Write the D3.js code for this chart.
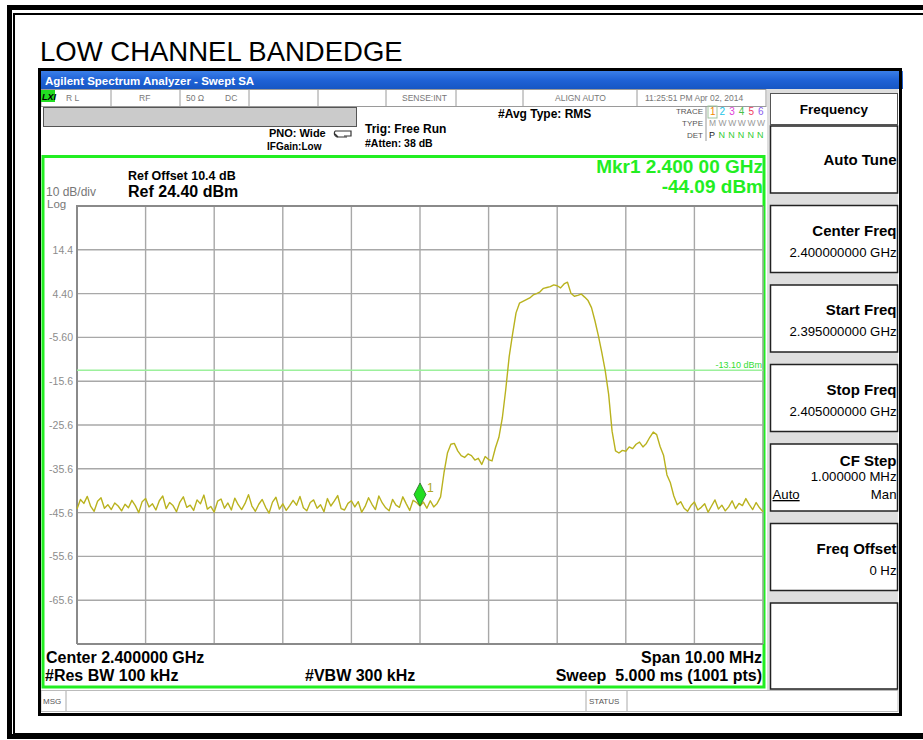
<!DOCTYPE html>
<html>
<head>
<meta charset="utf-8">
<script src="https://cdn.jsdelivr.net/npm/d3@7"></script>
<style>
  body { margin: 0; background: #fff; }
  svg { display: block; }
  text { font-family: "Liberation Sans", Arial, sans-serif; white-space: pre; }
</style>
</head>
<body>
<svg id="chart" width="923" height="740"></svg>
<script>
// ---- sweep settings ----
const startFreqGHz = 2.395;
const stopFreqGHz = 2.405;
const refLevelDbm = 24.4;
const dbPerDiv = 10;
const divisions = 10;
const yTickLabels = ["14.4", "4.40", "-5.60", "-15.6", "-25.6", "-35.6", "-45.6", "-55.6", "-65.6"];

// ---- trace 1 (dBm), 201 points evenly spaced from start to stop ----
const traceDbm = [
  -44.8, -42.6, -43.5, -41.9, -44.2, -45.3, -43.0, -42.2, -44.6, -43.8,
  -44.9, -43.4, -44.1, -45.2, -43.7, -44.5, -42.8, -44.0, -45.6, -43.1,
  -42.4, -44.3, -43.6, -45.0, -42.9, -41.8, -44.7, -43.3, -44.0, -45.4,
  -43.2, -42.0, -44.4, -43.9, -45.1, -42.7, -43.6, -41.6, -44.8, -44.2,
  -45.5, -43.0, -42.5, -44.6, -43.4, -45.0, -42.3, -43.8, -44.9, -43.5,
  -41.5, -44.1, -45.3, -43.7, -42.6, -44.4, -45.7, -43.2, -42.1, -44.8,
  -43.6, -45.1, -44.0, -42.8, -43.9, -41.9, -44.5, -45.2, -43.3, -42.7,
  -44.6, -43.8, -45.4, -42.4, -44.1, -43.0, -41.7, -44.7, -45.0, -43.5,
  -42.9, -44.3, -43.1, -45.5, -44.2, -42.2, -43.7, -44.9, -41.8, -43.4,
  -44.5, -45.2, -42.6, -43.9, -44.4, -42.0, -43.6, -45.1, -42.8, -43.3,
  -44.09, -43.2, -44.6, -42.9, -44.3, -43.5, -42.0, -36.5, -32.0, -30.0,
  -29.8, -31.5, -32.6, -33.0, -32.2, -32.6, -33.6, -33.2, -34.6, -32.8,
  -33.5, -33.8, -30.8, -28.4, -24.0, -17.5, -10.0, -4.8, 0.0, 2.2,
  2.6, 3.0, 3.4, 4.1, 4.4, 4.8, 5.6, 5.8, 6.0, 6.4,
  6.2, 5.7, 6.6, 7.0, 4.5, 3.8, 4.0, 4.3, 3.6, 2.8,
  1.2, -1.8, -5.2, -9.0, -13.2, -18.6, -27.0, -31.5, -32.0, -31.4,
  -31.6, -30.6, -31.0, -30.0, -29.5, -30.6, -29.8, -28.4, -27.2, -27.8,
  -30.5, -32.5, -37.0, -38.8, -41.8, -43.8, -43.1, -44.6, -45.3, -44.0,
  -43.2, -45.0, -44.4, -43.6, -45.5, -44.1, -42.7, -44.8, -43.9, -45.2,
  -44.3, -42.9, -44.7, -43.5, -44.0, -42.4, -43.8, -44.9, -43.3, -44.5,
  -45.4
];

// ---- marker & display line ----
const markerFreqGHz = 2.400;
const markerDbm = -44.09;
const displayLineDbm = -13.10;

// ---- annotation text ----
const pageTitle = "LOW CHANNEL BANDEDGE";
const windowTitle = "Agilent Spectrum Analyzer - Swept SA";
const statusCells = ["R L", "RF", "50 \u03A9", "DC", "SENSE:INT", "ALIGN AUTO", "11:25:51 PM Apr 02, 2014"];
const traceNumbers = ["1", "2", "3", "4", "5", "6"];
const traceTypes = ["M", "W", "W", "W", "W", "W"];
const traceDets = ["P", "N", "N", "N", "N", "N"];
const softkeys = [
  { title: "Auto Tune" },
  { title: "Center Freq", value: "2.400000000 GHz" },
  { title: "Start Freq", value: "2.395000000 GHz" },
  { title: "Stop Freq", value: "2.405000000 GHz" },
  { title: "CF Step", value: "1.000000 MHz", left: "Auto", right: "Man" },
  { title: "Freq Offset", value: "0 Hz" },
  { title: "" }
];

const svg = d3.select("#chart");

// ---- page frame (right side runs past the edge) ----
svg.append("rect").attr("x", 9.5).attr("y", 7.5).attr("width", 940).attr("height", 729)
  .attr("fill", "none").attr("stroke", "#000").attr("stroke-width", 5);
svg.append("rect").attr("x", 14).attr("y", 14).attr("width", 920).attr("height", 720)
  .attr("fill", "none").attr("stroke", "#000").attr("stroke-width", 2);

svg.append("text").attr("x", 40).attr("y", 61).attr("font-size", 27.5).attr("fill", "#000")
  .text(pageTitle);

// ---- analyzer window ----
const win = { x0: 38, y0: 68, x1: 903, y1: 717 };
svg.append("rect").attr("x", win.x0).attr("y", win.y0).attr("width", win.x1 - win.x0).attr("height", win.y1 - win.y0)
  .attr("fill", "#fff");

// title bar
const grad = svg.append("defs").append("linearGradient").attr("id", "bar").attr("x1", 0).attr("y1", 0).attr("x2", 0).attr("y2", 1);
grad.append("stop").attr("offset", "0").attr("stop-color", "#3a7ee8");
grad.append("stop").attr("offset", "0.5").attr("stop-color", "#1f62d6");
grad.append("stop").attr("offset", "1").attr("stop-color", "#1656c4");
svg.append("rect").attr("x", win.x0).attr("y", 71).attr("width", win.x1 - win.x0).attr("height", 18).attr("fill", "url(#bar)");
svg.append("text").attr("x", 45).attr("y", 85).attr("font-size", 11.5).attr("font-weight", "bold")
  .attr("fill", "#fff").text(windowTitle);

// status row
svg.append("rect").attr("x", 41).attr("y", 89.5).attr("width", 725).attr("height", 17)
  .attr("fill", "#fff").attr("stroke", "#9a9a9a").attr("stroke-width", 1);
svg.append("rect").attr("x", 41).attr("y", 90).attr("width", 14).attr("height", 12).attr("fill", "#22dd22");
svg.append("text").attr("x", 42).attr("y", 100).attr("font-size", 9).attr("font-weight", "bold")
  .attr("font-style", "italic").attr("fill", "#000").text("LXI");
const dividerX = [111, 180, 249, 318, 386, 456, 523, 637];
svg.selectAll("line.div").data(dividerX).join("line").attr("class", "div")
  .attr("x1", d => d).attr("x2", d => d).attr("y1", 90).attr("y2", 106)
  .attr("stroke", "#9a9a9a").attr("stroke-width", 1);
const statusX = [66, 139, 186, 225, 402, 555, 645];
svg.selectAll("text.status").data(statusCells).join("text").attr("class", "status")
  .attr("x", (d, i) => statusX[i]).attr("y", 101).attr("font-size", 8.5).attr("fill", "#777")
  .text(d => d);

// setup bar
svg.append("rect").attr("x", 43.5).attr("y", 107.5).attr("width", 313).attr("height", 19)
  .attr("fill", "#cbcbcb").attr("stroke", "#555").attr("stroke-width", 1);
svg.append("text").attr("x", 269).attr("y", 137).attr("font-size", 11).attr("font-weight", "bold").text("PNO: Wide");
svg.append("text").attr("x", 267).attr("y", 150).attr("font-size", 10).attr("font-weight", "bold").text("IFGain:Low");
svg.append("path").attr("d", "M335,131 h16 v5 h-7 M338,137 l-3,-3")
  .attr("fill", "none").attr("stroke", "#333").attr("stroke-width", 1.2);
svg.append("path").attr("d", "M335,131 q-2,4 2,6 h10").attr("fill", "none").attr("stroke", "#333").attr("stroke-width", 1.2);
svg.append("text").attr("x", 365).attr("y", 133).attr("font-size", 12).attr("font-weight", "bold").text("Trig: Free Run");
svg.append("text").attr("x", 365).attr("y", 147).attr("font-size", 10.5).attr("font-weight", "bold").text("#Atten: 38 dB");
svg.append("text").attr("x", 498).attr("y", 118).attr("font-size", 12).attr("font-weight", "bold").text("#Avg Type: RMS");

// trace table
const traceColors = ["#f08a00", "#19c3e8", "#e040d8", "#48c048", "#f04060", "#8a5cf0"];
[["TRACE", 114], ["TYPE", 126], ["DET", 138]].forEach(([t, yy]) => {
  svg.append("text").attr("x", 703).attr("y", yy).attr("font-size", 8).attr("text-anchor", "end")
    .attr("fill", "#555").text(t);
});
svg.append("line").attr("x1", 706).attr("x2", 706).attr("y1", 106).attr("y2", 141).attr("stroke", "#999");
svg.append("rect").attr("x", 708).attr("y", 106).attr("width", 9).attr("height", 12).attr("fill", "none").attr("stroke", "#9fc59f");
svg.selectAll("text.tn").data(traceNumbers).join("text").attr("class", "tn")
  .attr("x", (d, i) => 710 + i * 9.6).attr("y", 115).attr("font-size", 10).attr("fill", (d, i) => traceColors[i]).text(d => d);
svg.selectAll("text.tt").data(traceTypes).join("text").attr("class", "tt")
  .attr("x", (d, i) => 709 + i * 9.6).attr("y", 126).attr("font-size", 8.5).attr("fill", "#999").text(d => d);
svg.selectAll("text.td").data(traceDets).join("text").attr("class", "td")
  .attr("x", (d, i) => 709 + i * 9.6).attr("y", 138).attr("font-size", 9)
  .attr("fill", (d, i) => i === 0 ? "#222" : "#33cc33").text(d => d);

// ---- softkey panel ----
svg.append("rect").attr("x", 767).attr("y", 89).attr("width", 131).attr("height", 601).attr("fill", "#dedede");
svg.append("rect").attr("x", 770.5).attr("y", 93.5).attr("width", 127).attr("height", 31)
  .attr("fill", "#fff").attr("stroke", "#555").attr("stroke-width", 1);
svg.append("text").attr("x", 834).attr("y", 114).attr("font-size", 13.5).attr("font-weight", "bold")
  .attr("text-anchor", "middle").text("Frequency");
const keyTop = i => 126 + i * 79.5;
const keys = svg.selectAll("g.key").data(softkeys).join("g").attr("class", "key")
  .attr("transform", (d, i) => `translate(770.5,${keyTop(i)})`);
keys.append("rect").attr("width", 127).attr("height", (d, i) => i === softkeys.length - 1 ? 86 : 67).attr("fill", "#fff")
  .attr("stroke", "#222").attr("stroke-width", 1.5);
keys.append("text").attr("x", 126).attr("y", d => d.left ? 22 : (d.value ? 30 : 39)).attr("font-size", 15).attr("font-weight", "bold")
  .attr("text-anchor", "end").text(d => d.title);
keys.filter(d => d.value).append("text").attr("x", 126).attr("y", d => d.left ? 37 : 51)
  .attr("font-size", 13.2).attr("text-anchor", "end").text(d => d.value);
keys.filter(d => d.left).append("text").attr("x", 2).attr("y", 55).attr("font-size", 13.2)
  .attr("text-decoration", "underline").text(d => d.left);
keys.filter(d => d.right).append("text").attr("x", 126).attr("y", 55).attr("font-size", 13.2)
  .attr("text-anchor", "end").text(d => d.right);

// ---- graticule ----
const plot = { left: 77, right: 763, top: 206, bottom: 644 };
const x = d3.scaleLinear().domain([startFreqGHz, stopFreqGHz]).range([plot.left, plot.right]);
const y = d3.scaleLinear().domain([refLevelDbm - dbPerDiv * divisions, refLevelDbm]).range([plot.bottom, plot.top]);

// green display frame
svg.append("rect").attr("x", 43).attr("y", 156.5).attr("width", 721).attr("height", 530.5)
  .attr("fill", "#fff").attr("stroke", "#22ee22").attr("stroke-width", 3);

const xGrid = d3.range(divisions + 1).map(i => startFreqGHz + i * (stopFreqGHz - startFreqGHz) / divisions);
const yGrid = d3.range(divisions + 1).map(i => refLevelDbm - i * dbPerDiv);
svg.append("g").selectAll("line").data(xGrid).join("line")
  .attr("x1", d => x(d)).attr("x2", d => x(d)).attr("y1", plot.top).attr("y2", plot.bottom)
  .attr("stroke", "#a8a8a8").attr("stroke-width", 1.4);
svg.append("g").selectAll("line").data(yGrid).join("line")
  .attr("x1", plot.left).attr("x2", plot.right).attr("y1", d => y(d)).attr("y2", d => y(d))
  .attr("stroke", "#a8a8a8").attr("stroke-width", 1.4);
svg.append("path")
  .attr("d", `M${plot.left},${plot.bottom} V${plot.top} H${plot.right}`)
  .attr("fill", "none").attr("stroke", "#8a8a8a").attr("stroke-width", 2);
svg.append("line").attr("x1", plot.left).attr("x2", plot.right).attr("y1", plot.bottom).attr("y2", plot.bottom)
  .attr("stroke", "#8a8a8a").attr("stroke-width", 2);

// y tick labels
svg.selectAll("text.ytick").data(yTickLabels).join("text").attr("class", "ytick")
  .attr("x", 73).attr("y", (d, i) => y(yGrid[i + 1]) + 4).attr("text-anchor", "end")
  .attr("font-size", 10.5).attr("fill", "#8c8c8c").text(d => d);

// display line
svg.append("line").attr("x1", plot.left).attr("x2", plot.right)
  .attr("y1", y(displayLineDbm)).attr("y2", y(displayLineDbm))
  .attr("stroke", "#9cf09c").attr("stroke-width", 1.3);
svg.append("text").attr("x", 762).attr("y", y(displayLineDbm) - 2).attr("text-anchor", "end")
  .attr("font-size", 9).attr("fill", "#33dd33").text(displayLineDbm.toFixed(2) + " dBm");

// trace
const step = (stopFreqGHz - startFreqGHz) / (traceDbm.length - 1);
const line = d3.line().x((d, i) => x(startFreqGHz + i * step)).y(d => y(d));
svg.append("path").datum(traceDbm).attr("d", line)
  .attr("fill", "none").attr("stroke", "#b9b21e").attr("stroke-width", 1.4).attr("stroke-linejoin", "round");

// marker 1
const mx = x(markerFreqGHz), my = y(markerDbm);
svg.append("path").attr("d", `M${mx},${my} l-6,-11.5 l6,-11.5 l6,11.5 z`)
  .attr("fill", "#22dd22").attr("stroke", "#2a6a2a").attr("stroke-width", 0.8);
svg.append("text").attr("x", mx + 7).attr("y", my - 14).attr("font-size", 12).attr("fill", "#b0a820").text("1");

// ---- readouts ----
svg.append("text").attr("x", 763).attr("y", 173).attr("text-anchor", "end").attr("font-size", 19)
  .attr("font-weight", "bold").attr("fill", "#22ee22").text(`Mkr1 ${markerFreqGHz.toFixed(3)} 00 GHz`);
svg.append("text").attr("x", 763).attr("y", 192.5).attr("text-anchor", "end").attr("font-size", 19)
  .attr("font-weight", "bold").attr("fill", "#22ee22").text(`${markerDbm.toFixed(2)} dBm`);
svg.append("text").attr("x", 128).attr("y", 180).attr("font-size", 12.5).attr("font-weight", "bold").text("Ref Offset 10.4 dB");
svg.append("text").attr("x", 128).attr("y", 196.5).attr("font-size", 16).attr("font-weight", "bold")
  .text(`Ref ${refLevelDbm.toFixed(2)} dBm`);
svg.append("text").attr("x", 46).attr("y", 195.5).attr("font-size", 12).attr("fill", "#777").text(`${dbPerDiv} dB/div`);
svg.append("text").attr("x", 47).attr("y", 208).attr("font-size", 11.5).attr("fill", "#777").text("Log");

svg.append("text").attr("x", 46).attr("y", 663).attr("font-size", 16).attr("font-weight", "bold")
  .text(`Center ${((startFreqGHz + stopFreqGHz) / 2).toFixed(6)} GHz`);
svg.append("text").attr("x", 45).attr("y", 681).attr("font-size", 16).attr("font-weight", "bold").text("#Res BW 100 kHz");
svg.append("text").attr("x", 305).attr("y", 681).attr("font-size", 16).attr("font-weight", "bold").text("#VBW 300 kHz");
svg.append("text").attr("x", 762).attr("y", 663).attr("text-anchor", "end").attr("font-size", 16).attr("font-weight", "bold")
  .text(`Span ${((stopFreqGHz - startFreqGHz) * 1000).toFixed(2)} MHz`);
svg.append("text").attr("x", 762).attr("y", 681).attr("text-anchor", "end").attr("font-size", 16).attr("font-weight", "bold")
  .text(`Sweep  5.000 ms (${traceDbm.length * 5 - 4} pts)`);

// ---- message bar ----
svg.append("rect").attr("x", 41).attr("y", 690.5).attr("width", 857).attr("height", 21)
  .attr("fill", "#fff").attr("stroke", "#bbb").attr("stroke-width", 1);
[66, 586, 627].forEach(v => svg.append("line").attr("x1", v).attr("x2", v).attr("y1", 691).attr("y2", 711).attr("stroke", "#aaa"));
svg.append("text").attr("x", 43).attr("y", 704).attr("font-size", 8).attr("fill", "#555").text("MSG");
svg.append("text").attr("x", 589).attr("y", 704).attr("font-size", 8).attr("fill", "#555").text("STATUS");

// window border
svg.append("rect").attr("x", 39.5).attr("y", 69.5).attr("width", 861).attr("height", 645)
  .attr("fill", "none").attr("stroke", "#000").attr("stroke-width", 3);
</script>
</body>
</html>
